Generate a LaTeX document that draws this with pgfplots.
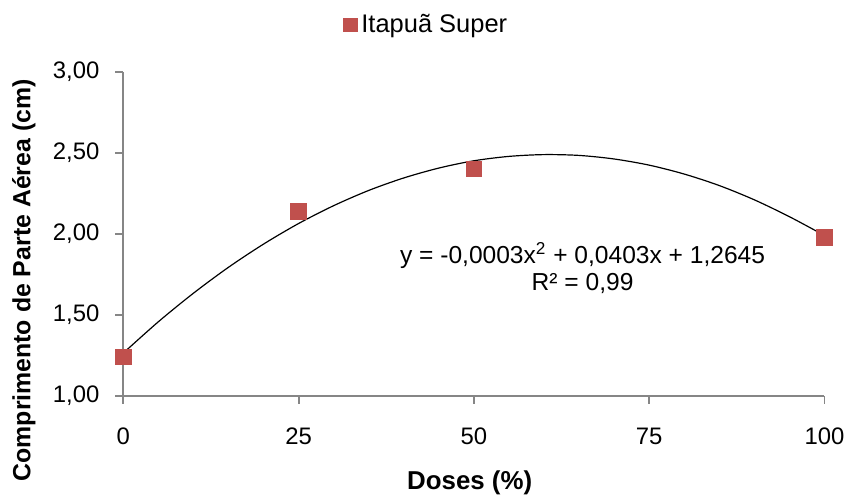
\documentclass[border=0pt]{standalone}
\usepackage{fontspec}
\setmainfont{Liberation Sans}
\usepackage{pgfplots}
\pgfplotsset{compat=1.18}
\definecolor{excelred}{RGB}{192,80,77}
\definecolor{axisgray}{RGB}{134,134,134}

\begin{document}
\begin{tikzpicture}
% canvas 851x498 px at 0.5pt per px
\path (0,0) rectangle (425.5pt,249pt);
\begin{axis}[
  at={(62pt,50pt)}, anchor=south west,
  scale only axis,
  width=352.5pt, height=163pt,
  xmin=0, xmax=100, ymin=1, ymax=3,
  xtick={0,25,50,75,100},
  ytick={1,1.5,2,2.5,3},
  axis lines=left,
  axis line style={axisgray, line width=0.9pt, -},
  tick style={axisgray, line width=0.9pt},
  tick align=outside,
  major tick length=4pt,
  clip=false,
  font=\fontsize{12}{14}\selectfont,
  tick label style={font=\fontsize{12}{14}\selectfont},
  /pgf/number format/assume math mode=true,
  yticklabel style={xshift=-4.5pt, /pgf/number format/.cd, use comma, fixed, fixed zerofill, precision=2},
  xticklabel style={yshift=-8.5pt},
  xlabel={\textbf{Doses (\%)}},
  ylabel={\textbf{Comprimento de Parte Aérea (cm)}},
  xlabel style={at={(rel axis cs:0.494,-0.267)}, anchor=center, font=\fontsize{13}{14}\selectfont},
  ylabel style={at={(rel axis cs:-0.142,0.356)}, anchor=center, font=\fontsize{12.5}{14}\selectfont},
  legend style={at={(rel axis cs:0.433,1.144)}, anchor=center, draw=none, fill=none,
    font=\fontsize{12.8}{14}\selectfont, inner sep=0pt},
  legend image code/.code={\draw[excelred,fill=excelred] (-3.5pt,-3.5pt) rectangle (3.5pt,3.5pt);},
]
\addplot[only marks, mark=square*, mark size=4pt, color=excelred, mark options={fill=excelred, draw=excelred}]
  coordinates {(0,1.24) (25,2.135) (50,2.40) (100,1.98)};
\addlegendentry{Itapuã Super}
\addplot[black, line width=0.6pt, smooth, forget plot]
  coordinates {(0,1.264) (5,1.457) (10,1.633) (15,1.793) (20,1.936) (25,2.063)
   (30,2.173) (35,2.267) (40,2.344) (45,2.405) (50,2.450) (55,2.477)
   (60,2.488) (65,2.483) (70,2.461) (75,2.423) (80,2.368) (85,2.297)
   (90,2.209) (95,2.105) (100,1.989)};
\node[anchor=center, font=\fontsize{12.35}{14}\selectfont] at (axis cs:65.5,1.865)
  {y = -0,0003x\textsuperscript{2} + 0,0403x + 1,2645};
\node[anchor=center, font=\fontsize{12.35}{14}\selectfont] at (axis cs:65.5,1.694)
  {R² = 0,99};
\end{axis}
\end{tikzpicture}
\end{document}
